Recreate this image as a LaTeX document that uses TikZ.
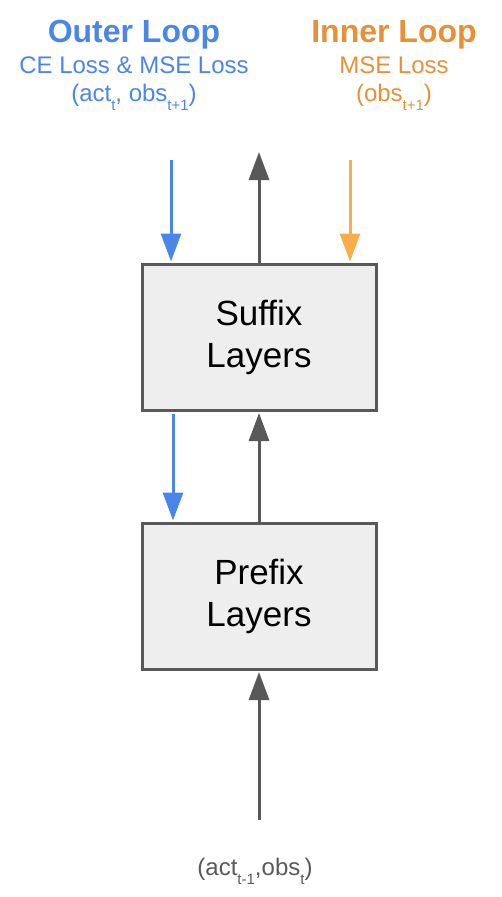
\documentclass[tikz,border=0pt]{standalone}
\usepackage{fontspec}
\setmainfont{Liberation Sans}
\usetikzlibrary{arrows.meta}
\definecolor{gblue}{HTML}{4A86E8}
\definecolor{gorange}{HTML}{E69138}
\definecolor{garrow}{HTML}{F6AE4A}
\definecolor{ggray}{HTML}{595959}
\definecolor{gfill}{HTML}{EEEEEE}
\newcommand{\sbs}[1]{\raisebox{-0.38em}{\fontsize{15}{15}\selectfont #1}}
\begin{document}
\begin{tikzpicture}[x=1pt,y=-1pt,
  layerbox/.style={draw=ggray, line width=3pt, fill=gfill, minimum width=234pt, minimum height=146pt, inner sep=0pt, align=center, font=\fontsize{35}{42}\selectfont, text=black},
  arr/.style={line width=3pt, -{Triangle[width=20pt,length=28pt]}},
  darkarr/.style={arr, draw=ggray},
  bluearr/.style={arr, draw=gblue},
  orangearr/.style={arr, draw=garrow},
  title/.style={anchor=base, font=\fontsize{32}{34}\selectfont\bfseries},
  sub/.style={anchor=base, font=\fontsize{24}{26}\selectfont},
]
\useasboundingbox (0,0) rectangle (501,897);
% boxes
\node[layerbox] (suffix) at (259,337) {Suffix\\Layers};
\node[layerbox] (prefix) at (259,596) {Prefix\\Layers};
% header texts
\node[title, text=gblue] (outer) at (134,42) {Outer Loop};
\node[sub, text=gblue] (outerloss) at (134,73) {CE Loss \& MSE Loss};
\node[sub, text=gblue] (outerargs) at (134,101) {(act\sbs{t}, obs\sbs{t+1})};
\node[title, text=gorange] (inner) at (394,42) {Inner Loop};
\node[sub, text=gorange] (innerloss) at (394,73) {MSE Loss};
\node[sub, text=gorange] (innerargs) at (394,101) {(obs\sbs{t+1})};
\node[sub, text=ggray] (input) at (255,875) {(act\sbs{t-1},obs\sbs{t})};
% free ends
\coordinate (bluetop) at (171,160);
\coordinate (orangetop) at (350,160);
\coordinate (out) at (259,152);
\coordinate (bluemid) at (173,414);
\coordinate (in) at (259,820);
% arrows
\draw[bluearr, shorten >=1pt] (bluetop) -- (bluetop |- suffix.north);
\draw[orangearr, shorten >=1pt] (orangetop) -- (orangetop |- suffix.north);
\draw[darkarr] (suffix.north) -- (out);
\draw[bluearr, shorten >=1pt] (bluemid) -- (bluemid |- prefix.north);
\draw[darkarr, shorten >=1.5pt] (prefix.north) -- (suffix.south);
\draw[darkarr, shorten >=1.5pt] (in) -- (prefix.south);
\end{tikzpicture}
\end{document}
